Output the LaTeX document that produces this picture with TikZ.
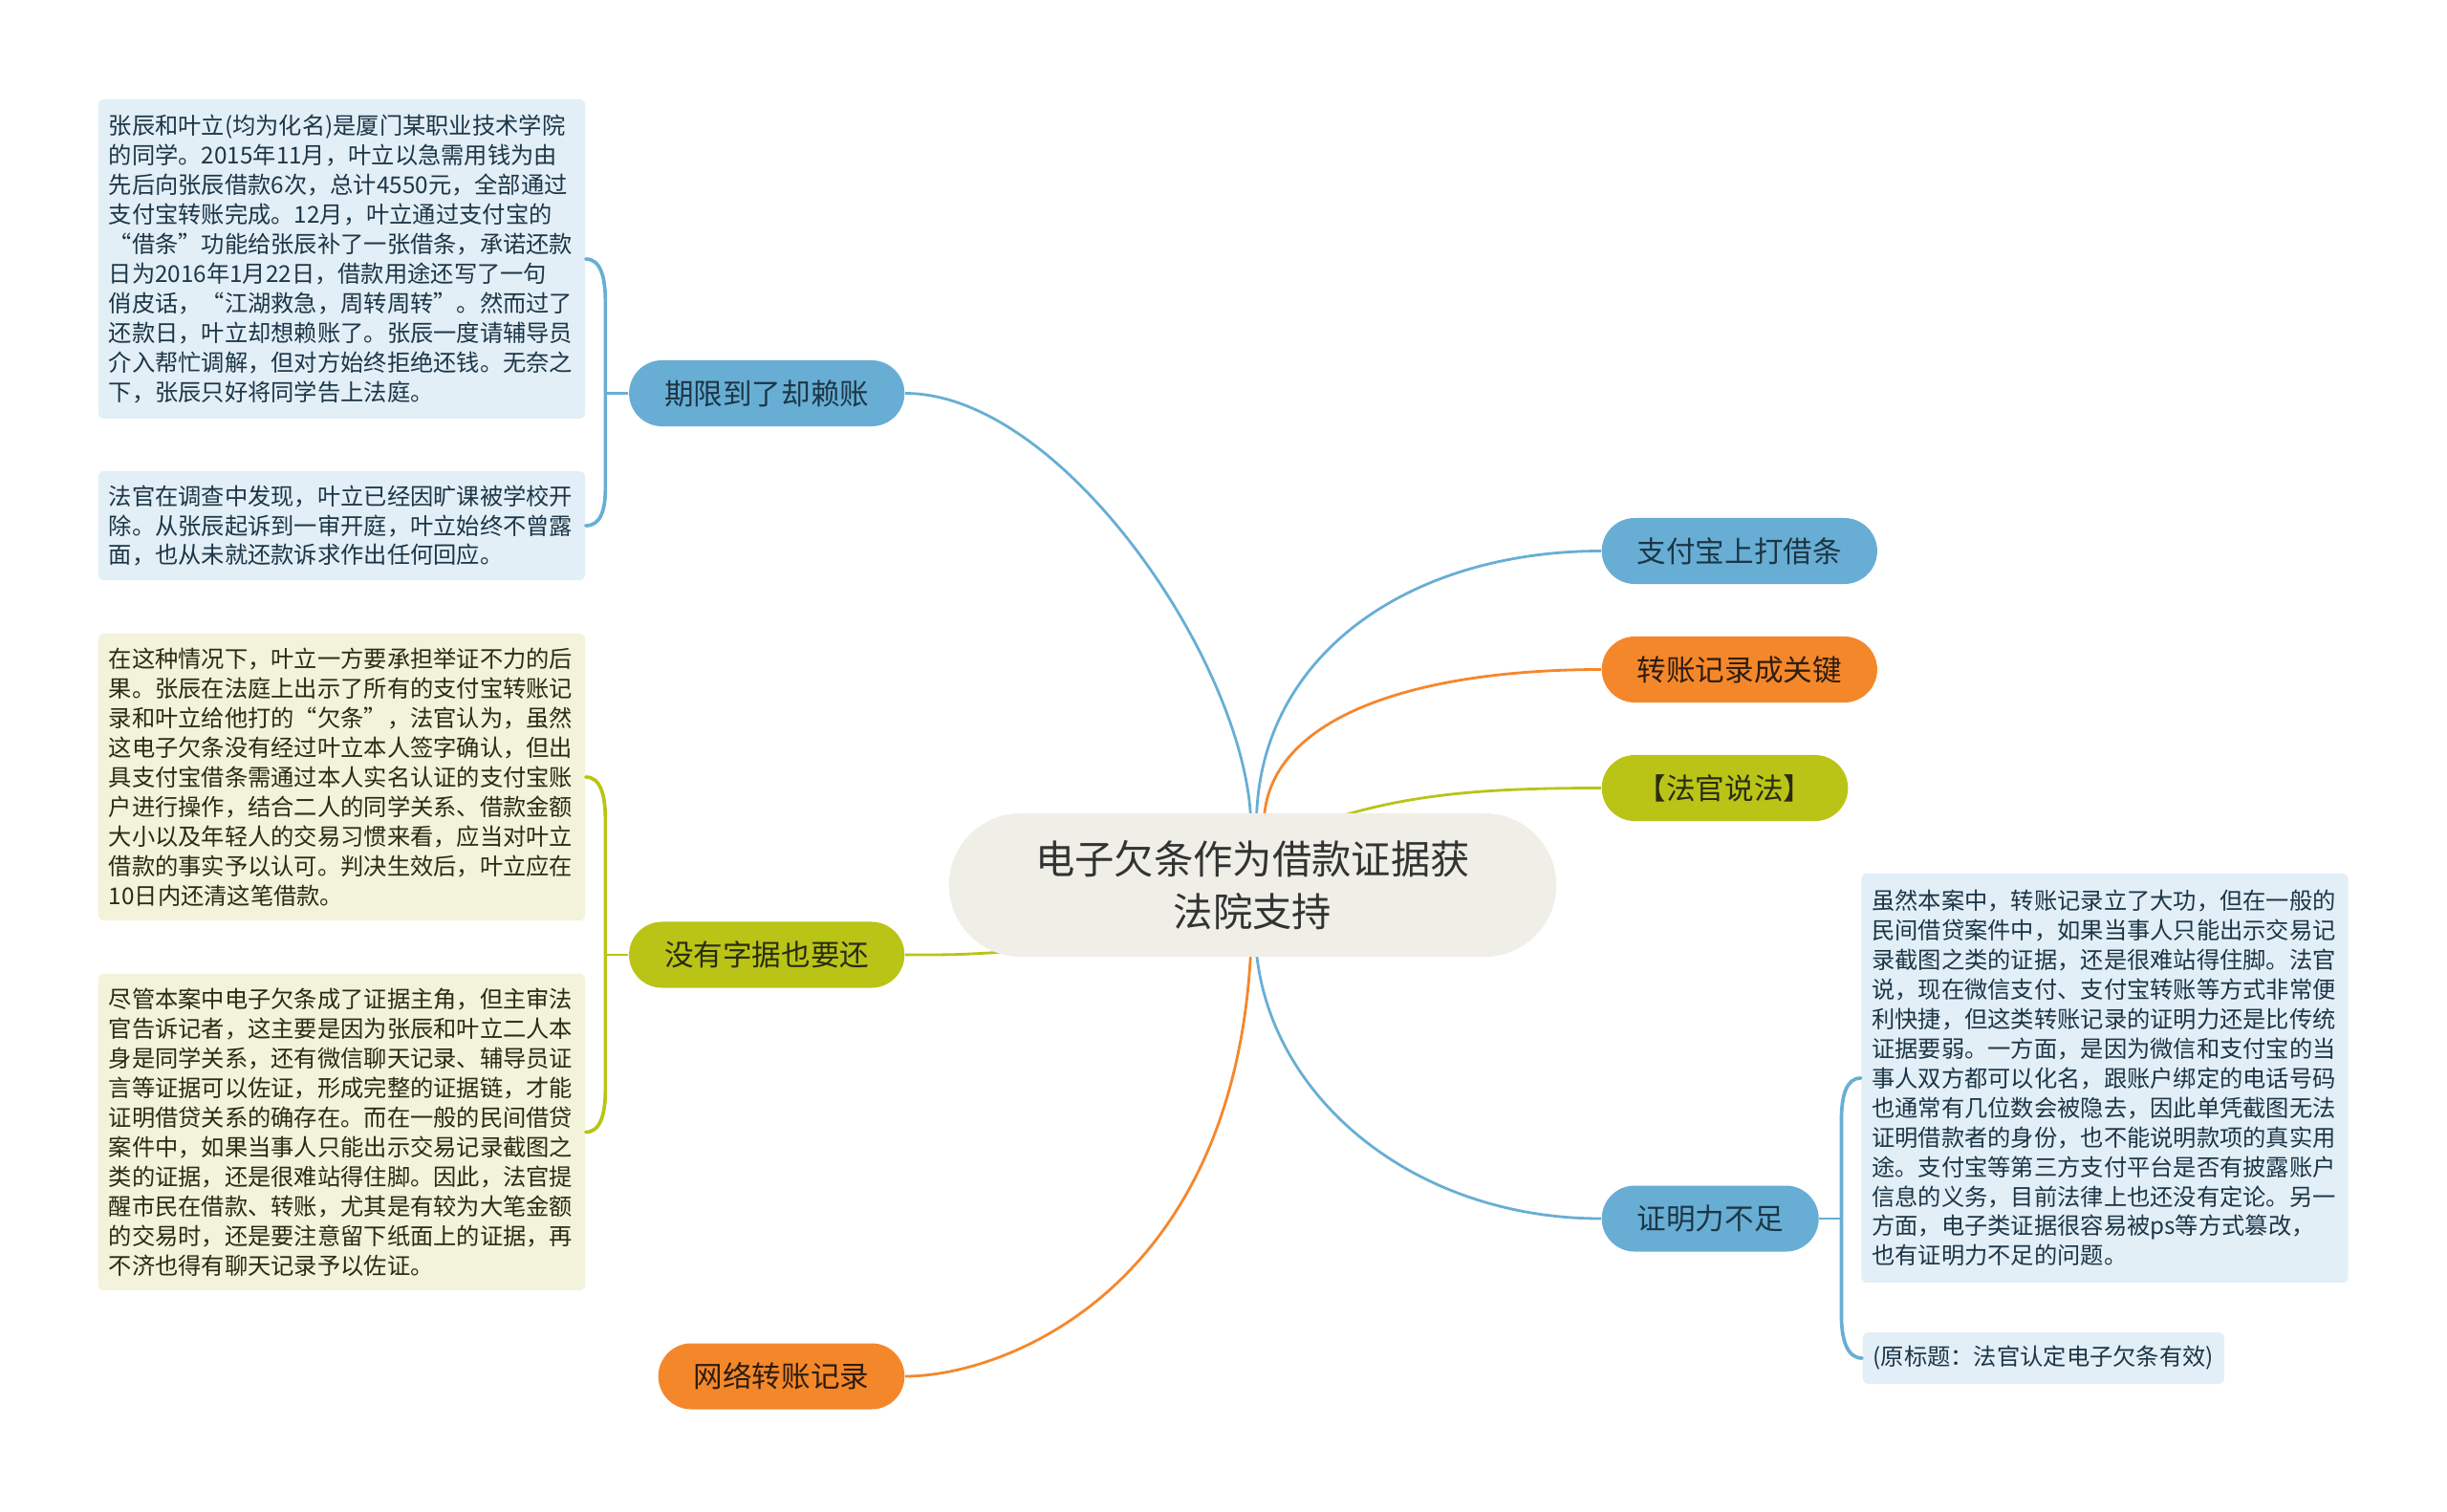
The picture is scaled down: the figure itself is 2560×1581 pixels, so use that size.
\documentclass[tikz,border=0pt]{standalone}
\usepackage{fontspec}
\setmainfont{Noto Sans CJK SC}
\usetikzlibrary{calc,backgrounds}

\definecolor{mapblue}{HTML}{68AED4}
\definecolor{maporange}{HTML}{F5872B}
\definecolor{mapgreen}{HTML}{B9C416}
\definecolor{rootfill}{HTML}{EFEFE7}
\definecolor{roottext}{HTML}{333333}
\definecolor{bluenotefill}{HTML}{E3EFF7}
\definecolor{greennotefill}{HTML}{F2F3DA}
\definecolor{bluetext}{HTML}{1C3647}
\definecolor{orangetext}{HTML}{2E1D10}
\definecolor{greentext}{HTML}{2A2B12}

\tikzset{
	root/.style={fill=rootfill, text=roottext, rounded corners=7.5mm,
		minimum width=63.5mm, minimum height=15mm, align=center,
		font=\fontsize{11.75pt}{15.8pt}\selectfont},
	branch/.style={rounded corners=3.45mm, minimum height=6.9mm,
		inner xsep=3.7mm, inner ysep=0pt,
		font=\fontsize{8.7pt}{10pt}\selectfont},
	bluebranch/.style={branch, fill=mapblue, text=bluetext},
	orangebranch/.style={branch, fill=maporange, text=orangetext},
	greenbranch/.style={branch, fill=mapgreen, text=greentext},
	noteshape/.style={rounded corners=0.6mm, inner xsep=1.1mm, align=left,
		font=\fontsize{6.9pt}{8.8pt}\selectfont},
	notebody/.style={noteshape, minimum width=50.9mm, text width=48.7mm},
	bluenote/.style={notebody, fill=bluenotefill, text=bluetext},
	greennote/.style={notebody, fill=greennotefill, text=greentext},
	link/.style={line width=0.8pt},
	forkline/.style={line width=1.05pt, line cap=round}
}

\begin{document}
\begin{tikzpicture}[x=0.01cm, y=-0.01cm]
	\useasboundingbox (0,0) rectangle (2560,1581);
	
	% Root
	\node[root] (root) at (1310.5,926) {电子欠条作为借款证据获\\法院支持};
	
	% Left branches
	\node[bluebranch, anchor=east] (deadline) at (947,411.5) {期限到了却赖账};
	\node[greenbranch, anchor=east] (noreceipt) at (947,999) {没有字据也要还};
	\node[orangebranch, anchor=east] (transfer) at (947,1440) {网络转账记录};
	
	% Right branches
	\node[bluebranch, anchor=west] (alipay) at (1675,576.5) {支付宝上打借条};
	\node[orangebranch, anchor=west] (keyrecord) at (1675,700.5) {转账记录成关键};
	\node[greenbranch, anchor=west] (judge) at (1675,824.5) {【法官说法】};
	\node[bluebranch, anchor=west] (weak) at (1675,1275) {证明力不足};
	
	% Notes
	\node[bluenote, minimum height=33.4mm] (story) at (357.5,271) {张辰和叶立(均为化名)是厦门某职业技术学院\\的同学。2015年11月，叶立以急需用钱为由\\先后向张辰借款6次，总计4550元，全部通过\\支付宝转账完成。12月，叶立通过支付宝的\\“借条”功能给张辰补了一张借条，承诺还款\\日为2016年1月22日，借款用途还写了一句\\俏皮话，“江湖救急，周转周转”。然而过了\\还款日，叶立却想赖账了。张辰一度请辅导员\\介入帮忙调解，但对方始终拒绝还钱。无奈之\\下，张辰只好将同学告上法庭。};
	\node[bluenote, minimum height=11.4mm] (absent) at (357.5,550) {法官在调查中发现，叶立已经因旷课被学校开\\除。从张辰起诉到一审开庭，叶立始终不曾露\\面，也从未就还款诉求作出任何回应。};
	\node[greennote, minimum height=30mm] (ruling) at (357.5,813) {在这种情况下，叶立一方要承担举证不力的后\\果。张辰在法庭上出示了所有的支付宝转账记\\录和叶立给他打的“欠条”，法官认为，虽然\\这电子欠条没有经过叶立本人签字确认，但出\\具支付宝借条需通过本人实名认证的支付宝账\\户进行操作，结合二人的同学关系、借款金额\\大小以及年轻人的交易习惯来看，应当对叶立\\借款的事实予以认可。判决生效后，叶立应在\\10日内还清这笔借款。};
	\node[greennote, minimum height=33.1mm] (advice) at (357.5,1184.5) {尽管本案中电子欠条成了证据主角，但主审法\\官告诉记者，这主要是因为张辰和叶立二人本\\身是同学关系，还有微信聊天记录、辅导员证\\言等证据可以佐证，形成完整的证据链，才能\\证明借贷关系的确存在。而在一般的民间借贷\\案件中，如果当事人只能出示交易记录截图之\\类的证据，还是很难站得住脚。因此，法官提\\醒市民在借款、转账，尤其是有较为大笔金额\\的交易时，还是要注意留下纸面上的证据，再\\不济也得有聊天记录予以佐证。};
	\node[bluenote, minimum height=42.8mm] (weaknote) at (2202,1128) {虽然本案中，转账记录立了大功，但在一般的\\民间借贷案件中，如果当事人只能出示交易记\\录截图之类的证据，还是很难站得住脚。法官\\说，现在微信支付、支付宝转账等方式非常便\\利快捷，但这类转账记录的证明力还是比传统\\证据要弱。一方面，是因为微信和支付宝的当\\事人双方都可以化名，跟账户绑定的电话号码\\也通常有几位数会被隐去，因此单凭截图无法\\证明借款者的身份，也不能说明款项的真实用\\途。支付宝等第三方支付平台是否有披露账户\\信息的义务，目前法律上也还没有定论。另一\\方面，电子类证据很容易被ps等方式篡改，\\也有证明力不足的问题。};
	\node[noteshape, fill=bluenotefill, text=bluetext, minimum height=5.4mm, anchor=west] (source) at (1948,1421) {(原标题：法官认定电子欠条有效)};
	
	% Fork points
	\coordinate (deadfork) at ($(deadline.west)+(-24,0)$);
	\coordinate (nofork) at ($(noreceipt.west)+(-24,0)$);
	\coordinate (weakfork) at ($(weak.east)+(23,0)$);
	
	\begin{pgfonlayer}{background}
		% Main links
		\draw[link, mapblue] ($(root.north)+(-2,5)$) .. controls (1300,690) and (1110,411.5) .. (deadline.east);
		\draw[link, mapblue] ($(root.north)+(4,5)$) .. controls (1320,680) and (1480,576.5) .. (alipay.west);
		\draw[link, maporange] ($(root.north)+(12,5)$) .. controls (1330,750) and (1480,700.5) .. (keyrecord.west);
		\draw[link, mapgreen] ($(root.north)+(88,5)$) .. controls (1480,830) and (1560,824.5) .. (judge.west);
		\draw[link, mapgreen] (noreceipt.east) .. controls (1000,999) .. ($(root.west)+(60,70)$);
		\draw[link, maporange] ($(root.south)+(-2,-5)$) .. controls (1290,1350) and (1050,1440) .. (transfer.east);
		\draw[link, mapblue] ($(root.south)+(4,-5)$) .. controls (1330,1150) and (1480,1275) .. (weak.west);
	\end{pgfonlayer}
	
	% Brackets
	\draw[link, mapblue] (deadline.west) -- (deadfork);
	\draw[forkline, mapblue] (story.east) .. controls ($(story.east)+(15,0)$) and ($(deadfork |- story.east)+(0,18)$) .. ($(deadfork |- story.east)+(0,45)$)
		-- ($(deadfork |- absent.east)+(0,-40)$) .. controls ($(deadfork |- absent.east)+(0,-15)$) and ($(absent.east)+(15,0)$) .. (absent.east);
	
	\draw[link, mapgreen] (noreceipt.west) -- (nofork);
	\draw[forkline, mapgreen] (ruling.east) .. controls ($(ruling.east)+(15,0)$) and ($(nofork |- ruling.east)+(0,18)$) .. ($(nofork |- ruling.east)+(0,45)$)
		-- ($(nofork |- advice.east)+(0,-45)$) .. controls ($(nofork |- advice.east)+(0,-18)$) and ($(advice.east)+(15,0)$) .. (advice.east);
	
	\draw[link, mapblue] (weak.east) -- (weakfork);
	\draw[forkline, mapblue] (weaknote.west) .. controls ($(weaknote.west)+(-15,0)$) and ($(weakfork |- weaknote.west)+(0,18)$) .. ($(weakfork |- weaknote.west)+(0,45)$)
		-- ($(weakfork |- source.west)+(0,-45)$) .. controls ($(weakfork |- source.west)+(0,-18)$) and ($(source.west)+(-15,0)$) .. (source.west);
	
\end{tikzpicture}
\end{document}
